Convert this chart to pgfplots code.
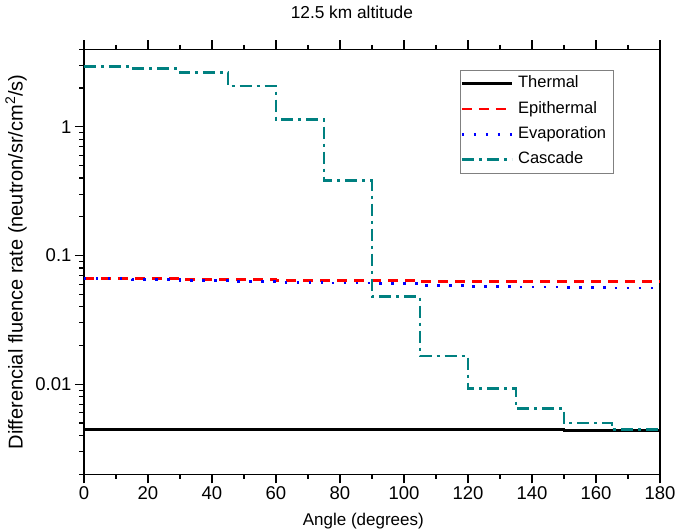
\documentclass[border=0pt]{standalone}
\usepackage{pgfplots}
\pgfplotsset{compat=1.18}
\usepackage{fontspec}
\setmainfont{Liberation Sans}
\definecolor{cascade}{RGB}{0,128,128}
\begin{document}
\begin{tikzpicture}
\useasboundingbox (-84pt,-57.7pt) rectangle (594pt,474.3pt);
\begin{axis}[
  at={(0pt,0pt)}, anchor=south west,
  scale only axis, width=576pt, height=425pt,
  xmin=0, xmax=180, ymode=log, ymin=0.002, ymax=4,
  xtick={0,20,...,180}, minor x tick num=1,
  log ticks with fixed point,
  /pgf/number format/assume math mode=true,
  tick align=outside, ytick pos=left, xtick pos=both, xticklabel pos=lower,
  major tick length=9pt, minor tick length=4.5pt,
  every tick/.style={black, line width=1.2pt},
  axis line style={line width=1.3pt},
  tick label style={font=\fontsize{18.5}{22}\selectfont},
  title={12.5 km altitude},
  title style={font=\fontsize{17.3}{20}\selectfont, at={(axis description cs:0.465,1.073)}, anchor=center},
  xlabel={Angle (degrees)},
  xlabel style={font=\fontsize{17}{20}\selectfont, at={(axis description cs:0.485,-0.11)}, anchor=center},
  ylabel={Differencial fluence rate (neutron/sr/cm\textsuperscript{2}/s)},
  ylabel style={font=\fontsize{20}{24}\selectfont, at={(axis description cs:-0.118,0.5)}, anchor=center},
  legend style={at={(axis description cs:0.653,0.952)}, anchor=north west,
    draw=gray, line width=0.8pt, inner xsep=0pt, inner ysep=5.8pt,
    font=\fontsize{16.5}{20}\selectfont, row sep=9.8pt,
    nodes={inner sep=0pt, text height=12pt, text depth=3.5pt},
    /tikz/every odd column/.append style={column sep=5pt}},
  legend cell align=left,
  legend image code/.code={\draw[#1] (0pt,0pt) -- (50pt,0pt);},
]
\addplot[const plot, black, line width=2.6pt] coordinates {
(0,0.00448)(15,0.00448)(30,0.00448)(45,0.00447)(60,0.00447)(75,0.00447)(90,0.00447)(105,0.00447)(120,0.00447)(135,0.00447)(150,0.0044)(165,0.0044)(180,0.0044)};
\addlegendentry{Thermal}
\addplot[const plot, red, line width=2.6pt, dash pattern=on 10pt off 7pt] coordinates {
(0,0.066)(15,0.066)(30,0.065)(45,0.065)(60,0.064)(75,0.064)(90,0.064)(105,0.063)(120,0.063)(135,0.063)(150,0.063)(165,0.063)(180,0.063)};
\addlegendentry{Epithermal}
\addplot[const plot, blue, line width=2.6pt, dash pattern=on 2.5pt off 9.5pt] coordinates {
(0,0.066)(15,0.065)(30,0.064)(45,0.063)(60,0.062)(75,0.061)(90,0.0605)(105,0.0585)(120,0.0575)(135,0.057)(150,0.0565)(165,0.056)(180,0.056)};
\addlegendentry{Evaporation\hspace*{7pt}}
\addplot[const plot, cascade, line width=2.6pt, dash pattern=on 12pt off 5pt on 3pt off 5pt] coordinates {
(0,2.94)(15,2.85)(30,2.64)(45,2.08)(60,1.14)(75,0.383)(90,0.0483)(105,0.0166)(120,0.0093)(135,0.0065)(150,0.0050)(165,0.00445)(180,0.00445)};
\addlegendentry{Cascade}
\end{axis}
\end{tikzpicture}
\end{document}
